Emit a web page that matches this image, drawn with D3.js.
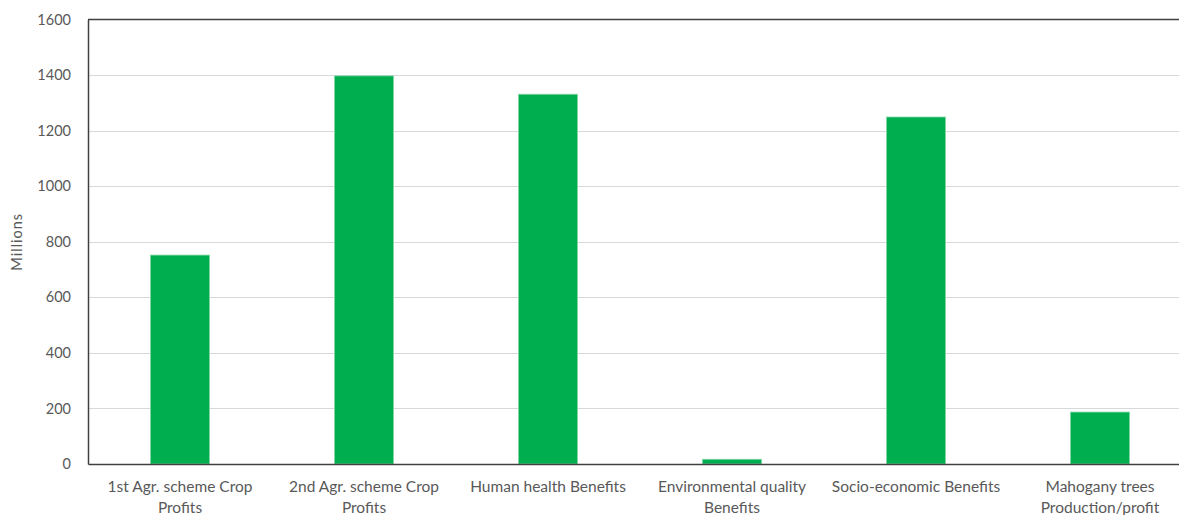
<!DOCTYPE html>
<html>
<head>
<meta charset="utf-8">
<script src="https://cdn.jsdelivr.net/npm/d3@7"></script>
<style>
  body { margin: 0; background: #fff; }
  text { font-family: Lato, "Liberation Sans", sans-serif; fill: #595959; }
</style>
</head>
<body>
<svg id="chart"></svg>
<script>
const categories = [
  "1st Agr. scheme Crop Profits",
  "2nd Agr. scheme Crop Profits",
  "Human health Benefits",
  "Environmental quality Benefits",
  "Socio-economic Benefits",
  "Mahogany trees Production/profit"
];
const values = [752, 1397, 1331, 17, 1249, 187];
const yTicks = [0, 200, 400, 600, 800, 1000, 1200, 1400, 1600];

const svgWidth = 1179;
const svgHeight = 515;
// plot runs past the right edge of the window, like the cropped original
const margin = { top: 19.5, left: 88, bottom: 51 };
const plotRight = 1192;

const svg = d3.select("#chart")
  .attr("width", svgWidth)
  .attr("height", svgHeight);

const xScale = d3.scaleBand()
  .domain(categories)
  .range([margin.left, plotRight])
  .paddingInner(0.68)
  .paddingOuter(0.34);

const yScale = d3.scaleLinear()
  .domain([0, 1600])
  .range([svgHeight - margin.bottom, margin.top]);

// gridlines
svg.append("g")
  .selectAll("line")
  .data(yTicks.slice(1, -1))
  .enter()
  .append("line")
  .attr("x1", margin.left)
  .attr("x2", plotRight)
  .attr("y1", d => Math.round(yScale(d)) + 0.5)
  .attr("y2", d => Math.round(yScale(d)) + 0.5)
  .attr("stroke", "#d9d9d9")
  .attr("stroke-width", 1);

// bars
svg.append("g")
  .selectAll("rect")
  .data(values)
  .enter()
  .append("rect")
  .attr("x", (d, i) => xScale(categories[i]))
  .attr("y", d => yScale(d))
  .attr("width", xScale.bandwidth())
  .attr("height", d => yScale(0) - yScale(d))
  .attr("fill", "#00ae4f")
  .attr("stroke", "#7fd6a5")
  .attr("stroke-width", 0.8);

// frame: top border
svg.append("line")
  .attr("x1", margin.left).attr("x2", plotRight)
  .attr("y1", yScale(1600)).attr("y2", yScale(1600))
  .attr("stroke", "#404040").attr("stroke-width", 1.5);

// y axis
const yAxis = d3.axisLeft(yScale)
  .tickValues(yTicks)
  .tickFormat(d3.format("d"))
  .tickSize(0)
  .tickPadding(17);

svg.append("g")
  .attr("transform", `translate(${margin.left},0)`)
  .call(yAxis)
  .call(g => g.select(".domain").attr("stroke", "#404040").attr("stroke-width", 1.5))
  .call(g => g.selectAll("text")
    .attr("font-family", "Lato, sans-serif")
    .attr("font-size", 14.5)
    .attr("fill", "#595959"));

// x axis
const xAxis = d3.axisBottom(xScale).tickSize(0).tickPadding(0);

svg.append("g")
  .attr("transform", `translate(0,${yScale(0)})`)
  .call(xAxis)
  .call(g => g.select(".domain").attr("stroke", "#404040").attr("stroke-width", 1.5))
  .call(g => g.selectAll(".tick text")
    .attr("font-family", "Lato, sans-serif")
    .attr("font-size", 15.5)
    .attr("fill", "#595959")
    .attr("dy", null)
    .attr("y", null)
    .call(wrap, xScale.step() - 4));

function wrap(texts, width) {
  texts.each(function() {
    const text = d3.select(this);
    const words = text.text().split(/\s+/);
    text.text(null);
    let line = [];
    let lineNo = 0;
    let tspan = text.append("tspan").attr("x", 0).attr("y", 28);
    for (const w of words) {
      line.push(w);
      tspan.text(line.join(" "));
      if (tspan.node().getComputedTextLength() > width && line.length > 1) {
        line.pop();
        tspan.text(line.join(" "));
        line = [w];
        lineNo++;
        tspan = text.append("tspan").attr("x", 0).attr("y", 28 + lineNo * 21).text(w);
      }
    }
  });
}

// y axis title
svg.append("text")
  .attr("transform", `translate(22,${(yScale(0) + yScale(1600)) / 2}) rotate(-90)`)
  .attr("text-anchor", "middle")
  .attr("font-size", 14.5)
  .attr("letter-spacing", 1)
  .text("Millions");
</script>
</body>
</html>
